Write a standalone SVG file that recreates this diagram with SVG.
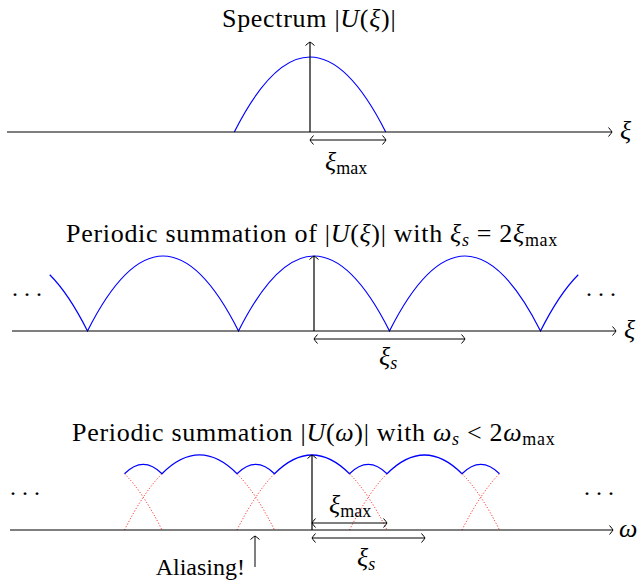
<svg xmlns="http://www.w3.org/2000/svg" width="640" height="581" viewBox="0 0 640 581">
<style>
.ax{stroke:#000;stroke-width:1.2;fill:none}
.ar{stroke:#000;stroke-width:1;fill:none}
.blue{stroke:#0000ff;stroke-width:1.2;fill:none}
.red{stroke:#ff0000;stroke-width:1;fill:none;stroke-dasharray:1 2}
text{font-family:"Liberation Serif","Times New Roman",serif;font-size:26px;fill:#000}
.t{letter-spacing:0.7px}
.i{font-style:italic}
.sub{font-size:18px}
.dots{letter-spacing:6px;font-size:24px}
.lab{font-size:24px}
</style>
<defs>
<marker id="to" markerUnits="userSpaceOnUse" markerWidth="10" markerHeight="12" viewBox="-5 -6 10 12" refX="0" refY="0" orient="auto-start-reverse">
<path d="M-3.5,-4.5 Q-0.6,-1.2 0,0 Q-0.6,1.2 -3.5,4.5" fill="none" stroke="#000" stroke-width="1"/>
</marker>
</defs>

<g id="panel1">
<text x="222" y="27" class="t">Spectrum |<tspan class="i">U</tspan>(<tspan class="i">ξ</tspan>)|</text>
<path class="blue" d="M234.3,132 Q310,-18 385.7,132"/>
<text x="325" y="170"><tspan class="i">ξ</tspan><tspan class="sub" dy="4">max</tspan></text>
<text x="620" y="139" class="i">ξ</text>
</g>

<g id="panel2">
<text x="66" y="242" class="t">Periodic summation of |<tspan class="i">U</tspan>(<tspan class="i">ξ</tspan>)| with <tspan class="i">ξ</tspan><tspan class="sub i" dy="4">s</tspan><tspan dy="-4"> = 2</tspan><tspan class="i">ξ</tspan><tspan class="sub" dy="4">max</tspan></text>
<path class="blue" d="M49.75,274.75 Q68.6,293.5 87.5,331 Q163,181 238.5,331 Q314,181 389.5,331 Q465,181 540.5,331 Q559.4,293.5 578.25,274.75"/>
<text x="12" y="296" class="dots">...</text>
<text x="586" y="296" class="dots">...</text>
<text x="379" y="365"><tspan class="i">ξ</tspan><tspan class="sub i" dy="4">s</tspan></text>
<text x="624" y="338" class="i">ξ</text>
</g>

<g id="panel3">
<text x="72" y="441" class="t">Periodic summation |<tspan class="i">U</tspan>(<tspan class="i">ω</tspan>)| with <tspan class="i">ω</tspan><tspan class="sub i" dy="4">s</tspan><tspan dy="-4"> &lt; 2</tspan><tspan class="i">ω</tspan><tspan class="sub" dy="4">max</tspan></text>
<path class="blue" d="M124.5,473.75 Q143.25,455 162,473.75 Q199.5,436.25 237,473.75 Q255.75,455 274.5,473.75 Q312,436.25 349.5,473.75 Q368.25,455 387,473.75 Q424.5,436.25 462,473.75 Q480.75,455 499.5,473.75"/>
<path class="red" d="M124.5,473.75 Q143.25,492.5 162,530 M124.5,530 Q143.25,492.5 162,473.75 M237,473.75 Q255.75,492.5 274.5,530 M237,530 Q255.75,492.5 274.5,473.75 M349.5,473.75 Q368.25,492.5 387,530 M349.5,530 Q368.25,492.5 387,473.75 M462,473.75 Q480.75,492.5 499.5,530 M462,530 Q480.75,492.5 499.5,473.75"/>
<text x="10" y="495" class="dots">...</text>
<text x="584" y="495" class="dots">...</text>
<text x="329" y="513"><tspan class="i">ξ</tspan><tspan class="sub" dy="4">max</tspan></text>
<text x="357" y="566"><tspan class="i">ξ</tspan><tspan class="sub i" dy="4">s</tspan></text>
<text x="245" y="575" text-anchor="end" class="lab">Aliasing!</text>
<text x="619" y="537" class="i">ω</text>
</g>

<g id="connectors">
<line class="ax" x1="7" y1="132" x2="612" y2="132" marker-end="url(#to)"/>
<line class="ax" x1="310" y1="132" x2="310" y2="42" marker-end="url(#to)"/>
<line class="ar" x1="310" y1="140" x2="386" y2="140" marker-start="url(#to)" marker-end="url(#to)"/>

<line class="ax" x1="12" y1="331" x2="616" y2="331" marker-end="url(#to)"/>
<line class="ax" x1="314" y1="331" x2="314" y2="256" marker-end="url(#to)"/>
<line class="ar" x1="314" y1="339" x2="465" y2="339" marker-start="url(#to)" marker-end="url(#to)"/>

<line class="ax" x1="10" y1="530" x2="613" y2="530" marker-end="url(#to)"/>
<line class="ax" x1="312" y1="530" x2="312" y2="455" marker-end="url(#to)"/>
<line class="ar" x1="312" y1="523" x2="387" y2="523" marker-start="url(#to)" marker-end="url(#to)"/>
<line class="ar" x1="312" y1="538" x2="425" y2="538" marker-start="url(#to)" marker-end="url(#to)"/>
<line class="ar" x1="255" y1="567" x2="255" y2="536" marker-end="url(#to)"/>
</g>
</svg>
